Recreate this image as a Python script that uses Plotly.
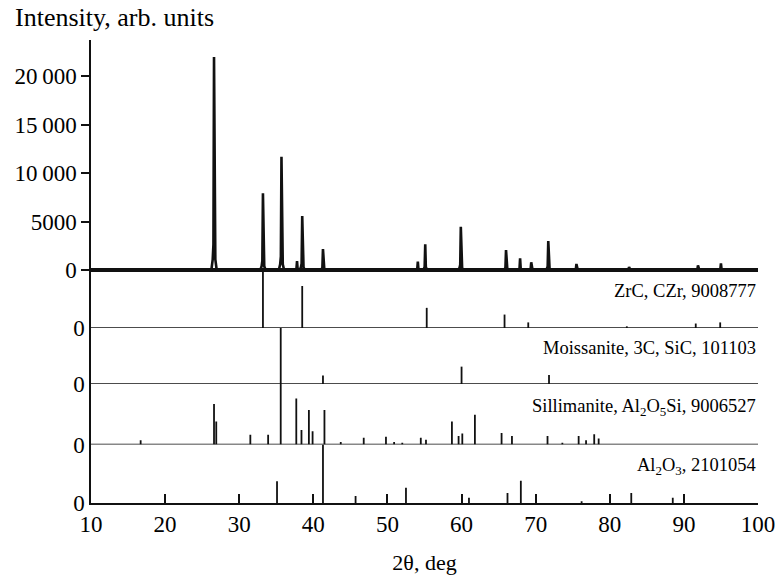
import plotly.graph_objects as go

# ---------------- data ----------------
# Measured pattern: peak positions (2theta, deg) and intensities (arb. units)
main_pos = [26.6, 33.2, 35.7, 37.8, 38.5, 41.3, 54.1, 55.1, 59.9, 66.0, 67.9, 69.4, 71.7, 75.5, 82.6, 91.9, 95.0]
main_int = [21950, 7900, 11680, 930, 5570, 2160, 860, 2650, 4460, 2060, 1200, 790, 2990, 620, 300, 480, 690]

# Reference stick patterns (relative intensity, %)
zrc_pos = [33.2, 38.5, 55.3, 65.8, 69.0, 82.3, 91.6, 94.9]
zrc_int = [100, 75, 36, 24, 10, 3, 8, 10]

sic_pos = [35.6, 41.3, 60.0, 71.8]
sic_int = [100, 15, 31, 16]

sil_pos = [16.7, 26.6, 26.9, 31.5, 33.9, 35.6, 37.7, 38.4, 39.4, 39.9, 41.5, 43.7, 46.8,
           49.8, 50.9, 52.0, 54.5, 55.2, 58.7, 59.6, 60.1, 61.8, 65.4, 66.8, 71.6, 73.6,
           75.8, 76.8, 77.9, 78.5]
sil_int = [7, 67, 38, 16, 16, 100, 76, 24, 57, 22, 57, 4, 11,
           13, 4, 3, 11, 8, 38, 14, 18, 49, 19, 14, 14, 3,
           14, 7, 17, 10]

al_pos = [35.1, 41.3, 45.7, 52.5, 61.0, 66.2, 68.0, 76.2, 82.9, 88.5]
al_int = [37, 100, 12, 26, 9, 17, 38, 3, 17, 9]

y_tick_vals = [0, 5000, 10000, 15000, 20000]
y_tick_text = ["0", "5000", "10\u2009000", "15\u2009000", "20\u2009000"]
x_tick_vals = [10, 20, 30, 40, 50, 60, 70, 80, 90, 100]

labels = ["ZrC, CZr, 9008777",
          "Moissanite, 3C, SiC, 101103",
          "Sillimanite, Al<sub>2</sub>O<sub>5</sub>Si, 9006527",
          "Al<sub>2</sub>O<sub>3</sub>, 2101054"]

# ---------------- build traces ----------------
FONT = "Liberation Serif, Times New Roman, serif"
HW_FOOT = 0.36   # half width at base (deg), rendering only
HW_TIP = 0.08
FLARE = 0.05

px_x, px_y = [10.0], [0.0]
for p, h in zip(main_pos, main_int):
    px_x += [p - HW_FOOT, p - HW_TIP * 2.2, p - HW_TIP, p, p + HW_TIP, p + HW_TIP * 2.2, p + HW_FOOT]
    px_y += [0, FLARE * h, 0.12 * h, h, 0.12 * h, FLARE * h, 0]
px_x.append(100.0)
px_y.append(0.0)

fig = go.Figure()
fig.add_trace(go.Scatter(x=px_x, y=px_y, mode="lines",
                         line=dict(color="#111111", width=2.6), yaxis="y", xaxis="x",
                         showlegend=False, hoverinfo="skip"))


def sticks(pos, inten):
    xs, ys = [], []
    for p, h in zip(pos, inten):
        xs += [p, p, None]
        ys += [0, h, None]
    return xs, ys


for i, (pos, inten) in enumerate([(zrc_pos, zrc_int), (sic_pos, sic_int),
                                  (sil_pos, sil_int), (al_pos, al_int)]):
    xs, ys = sticks(pos, inten)
    fig.add_trace(go.Scatter(x=xs, y=ys, mode="lines",
                             line=dict(color="#111111", width=1.8),
                             yaxis="y%d" % (i + 2), xaxis="x",
                             showlegend=False, hoverinfo="skip"))

# ---------------- layout ----------------
W, H = 778, 576
L, R, T, B = 91, 20, 40, 73
plot_h = H - T - B


def dom(px):
    return (H - B - px) / plot_h

# panel pixel extents (top, baseline)
panels = [(272, 328), (328, 384), (384, 444.5), (444.5, 503)]
label_y = [291, 348, 407, 466]

axis_common = dict(showgrid=False, zeroline=False, showline=True, linecolor="#111111",
                   linewidth=1.5, fixedrange=True, automargin=False,
                   tickfont=dict(family=FONT, size=23, color="black"))

layout = dict(
    width=W, height=H,
    margin=dict(l=L, r=R, t=T, b=B),
    plot_bgcolor="white", paper_bgcolor="white",
    showlegend=False,
    font=dict(family=FONT, color="black"),
    xaxis=dict(range=[10, 100], tickvals=x_tick_vals, ticks="inside", ticklen=9,
               tickwidth=1.5, tickcolor="#111111", anchor="y5",
               title=dict(text="2θ, deg", font=dict(family=FONT, size=22, color="black"),
                          standoff=18),
               **axis_common),
)

# main axis: zero at 270 px, top at 40 px
zero_px, top_px, bot_px = 270, 40, 276
units_per_px = 5000 / 48.5
layout["yaxis"] = dict(domain=[dom(bot_px), 1.0],
                       range=[-(bot_px - zero_px) * units_per_px, (zero_px - top_px) * units_per_px],
                       tickvals=y_tick_vals, ticktext=y_tick_text,
                       ticks="outside", ticklen=8, tickwidth=1.5, tickcolor="#111111",
                       anchor="x", **axis_common)
layout["yaxis"]["zeroline"] = True
layout["yaxis"]["zerolinecolor"] = "#111111"
layout["yaxis"]["zerolinewidth"] = 4

shapes = []
for i, (tp, bp) in enumerate(panels):
    name = "yaxis%d" % (i + 2)
    layout[name] = dict(domain=[dom(bp), dom(tp)], range=[0, 100],
                        tickvals=[0], ticktext=["0"], ticks="", anchor="x",
                        **axis_common)
    if i < 3:
        shapes.append(dict(type="line", xref="x", yref="y%d" % (i + 2),
                           x0=10, x1=100, y0=0, y1=0,
                           line=dict(color="#111111", width=1.5)))

annotations = [dict(text="Intensity, arb. units", xref="paper", yref="paper",
                    x=(13 - L) / (W - L - R), y=dom(17), xanchor="left", yanchor="middle",
                    showarrow=False, font=dict(family=FONT, size=26, color="black"))]
for lab, ly in zip(labels, label_y):
    annotations.append(dict(text=lab, xref="paper", yref="paper", x=1.0, y=dom(ly),
                            xanchor="right", yanchor="middle", showarrow=False, xshift=0,
                            font=dict(family=FONT, size=18.5, color="black")))

layout["shapes"] = shapes
layout["annotations"] = annotations
fig.update_layout(**layout)

fig.write_html("out.html")
